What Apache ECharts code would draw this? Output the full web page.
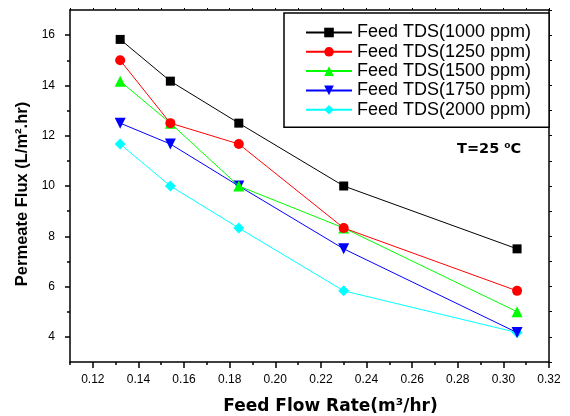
<!DOCTYPE html>
<html><head><meta charset="utf-8">
<script src="https://cdn.jsdelivr.net/npm/echarts@6/dist/echarts.min.js"></script>
<style>html,body{margin:0;padding:0;background:#fff}#c{width:570px;height:416px}</style>
</head><body><div id="c"></div>
<script>
const flowRate = [0.132, 0.154, 0.184, 0.230, 0.306];
const seriesNames = ['Feed TDS(1000 ppm)','Feed TDS(1250 ppm)','Feed TDS(1500 ppm)','Feed TDS(1750 ppm)','Feed TDS(2000 ppm)'];
const tds1000 = [15.83, 14.17, 12.5, 10.0, 7.5];
const tds1250 = [15.0, 12.5, 11.67, 8.33, 5.83];
const tds1500 = [14.17, 12.5, 10.0, 8.33, 5.0];
const tds1750 = [12.5, 11.67, 10.0, 7.5, 4.17];
const tds2000 = [11.67, 10.0, 8.33, 5.83, 4.17];
const xMajorTicks = [0.12,0.14,0.16,0.18,0.20,0.22,0.24,0.26,0.28,0.30,0.32];
const xMinorTicks = [0.11,0.13,0.15,0.17,0.19,0.21,0.23,0.25,0.27,0.29,0.31];
const yMajorTicks = [4,6,8,10,12,14,16];
const yMinorTicks = [5,7,9,11,13,15];

const colors = ['#000000','#ff0000','#00ff00','#0000ff','#00ffff'];
const symbols = ['rect','circle','triangle','triangle','diamond'];
const symSizes = [9,10,11,11,11];
const rotates = [0,0,0,180,0];
const allData = [tds1000,tds1250,tds1500,tds1750,tds2000];

const F = 'Liberation Sans, Arial, sans-serif';
const FD = 'DejaVu Sans, sans-serif';
const lineStyle = {color:'#000', width:1.5};

const chart = echarts.init(document.getElementById('c'), null, {renderer:'canvas'});
const series = allData.map((d,i)=>({
  name: seriesNames[i], type:'line', xAxisIndex:0, yAxisIndex:0,
  data: flowRate.map((x,j)=>[x,d[j]]),
  symbol: symbols[i], symbolSize: symSizes[i], symbolRotate: rotates[i],
  lineStyle:{color:colors[i], width:1}, itemStyle:{color:colors[i]},
  animation:false, z: 10-i
}));
chart.setOption({
  animation:false,
  grid:{left:70, right:21, top:10, bottom:54, outerBoundsMode:'none', containLabel:false},
  legend:{
    orient:'vertical', left:284, top:13, padding:[10,18,8,21],
    borderColor:'#000', borderWidth:1.5, backgroundColor:'#fff',
    itemWidth:46, itemHeight:12, itemGap:0.3,
    textStyle:{fontSize:18, fontFamily:F, color:'#000', lineHeight:19},
    data: seriesNames
  },
  xAxis:[
    {type:'value', min:0.11, max:0.32, position:'bottom',
     axisLine:{show:true, lineStyle}, splitLine:{show:false},
     axisTick:{show:true, inside:false, length:6, lineStyle:{color:'#000',width:1.5}, customValues:xMajorTicks},
     axisLabel:{customValues:xMajorTicks, formatter:v=>v.toFixed(2), fontSize:12, fontFamily:F, color:'#000', margin:12},
     name:'Feed Flow Rate(m\u00B3/hr)', nameLocation:'middle', nameGap:36,
     nameTextStyle:{padding:[0,0,0,42], fontSize:17, fontWeight:'bold', fontFamily:FD, color:'#000'}},
    {type:'value', min:0.11, max:0.32, position:'bottom',
     axisLine:{show:false}, splitLine:{show:false},
     axisTick:{show:true, length:3, lineStyle:{color:'#000',width:1.5}, customValues:xMinorTicks},
     axisLabel:{show:false}},
    {type:'value', min:0.11, max:0.32, interval:0.01, position:'top',
     axisLine:{show:true, lineStyle}, splitLine:{show:false},
     axisTick:{show:true, length:2, lineStyle:{color:'#000',width:1}},
     axisLabel:{show:false}}
  ],
  yAxis:[
    {type:'value', min:3, max:17, position:'left',
     axisLine:{show:true, lineStyle}, splitLine:{show:false},
     axisTick:{show:true, length:5, lineStyle:{color:'#000',width:1.5}, customValues:yMajorTicks},
     axisLabel:{customValues:yMajorTicks, fontSize:12, fontFamily:F, color:'#000', margin:15},
     name:'Permeate Flux (L/m\u00B2.hr)', nameLocation:'middle', nameGap:37,
     nameTextStyle:{padding:[0,16,0,0], fontSize:16.5, fontWeight:'bold', fontFamily:F, color:'#000'}},
    {type:'value', min:3, max:17, position:'left',
     axisLine:{show:false}, splitLine:{show:false},
     axisTick:{show:true, length:3, lineStyle:{color:'#000',width:1.5}, customValues:yMinorTicks},
     axisLabel:{show:false}},
    {type:'value', min:3, max:17, interval:1, position:'right',
     axisLine:{show:true, lineStyle}, splitLine:{show:false},
     axisTick:{show:true, length:3, lineStyle:{color:'#000',width:1}},
     axisLabel:{show:false}}
  ],
  graphic:[{type:'text', left:457, top:142,
    style:{text:'T=25 \u2070C', fill:'#000', fontSize:14.5, fontWeight:'bold', fontFamily:FD}}],
  series
});
</script></body></html>
